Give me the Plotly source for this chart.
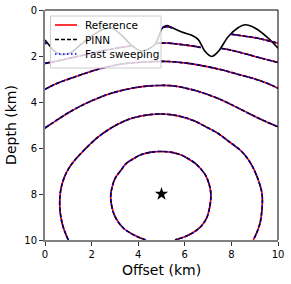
import plotly.graph_objects as go

# ---- data ----
topo_x = [0.0, 0.2, 0.39, 0.67, 1.1, 1.53, 2.1, 2.5, 2.82, 3.25, 3.68, 4.11, 4.54, 4.75, 4.9, 5.02,
          5.22, 5.44, 5.87, 6.3, 6.58, 6.87, 7.15, 7.44, 7.87, 8.3, 8.58, 9.01, 9.58, 10.0]
topo_z = [1.30, 1.55, 1.78, 1.93, 1.86, 1.50, 1.06, 0.84, 0.77, 1.06, 1.50, 1.78, 1.64, 1.45, 1.10, 0.80,
          0.68, 0.76, 0.96, 1.10, 1.29, 1.80, 2.02, 1.80, 1.15, 0.76, 0.64, 0.78, 1.22, 1.66]

c1_x = [4.33, 3.93, 3.36, 3.00, 2.86, 2.82, 2.88, 3.02, 3.22, 3.50, 3.79, 4.08, 4.50, 4.97, 5.45, 5.86,
        6.15, 6.44, 6.72, 6.90, 7.05, 7.12, 7.08, 6.94, 6.72, 6.44, 6.05, 5.58]
c1_z = [10.0, 9.84, 9.48, 8.97, 8.50, 8.10, 7.70, 7.30, 7.02, 6.66, 6.47, 6.31, 6.19, 6.15, 6.19, 6.31,
        6.47, 6.66, 6.95, 7.20, 7.60, 8.03, 8.50, 9.04, 9.38, 9.62, 9.84, 10.0]

c2_x = [1.00, 0.80, 0.68, 0.63, 0.68, 0.82, 1.00, 1.22, 1.50, 1.85, 2.22, 2.65, 3.08, 3.60, 4.08, 4.50,
        4.95, 5.40, 5.90, 6.40, 6.87, 7.40, 7.87, 8.20, 8.44, 8.73, 8.95, 9.15, 9.30, 9.33, 9.30, 9.23,
        9.10, 8.94]
c2_z = [10.0, 9.50, 9.00, 8.40, 7.80, 7.30, 6.92, 6.60, 6.28, 5.92, 5.57, 5.25, 4.99, 4.75, 4.62, 4.55,
        4.52, 4.55, 4.65, 4.82, 5.06, 5.35, 5.70, 5.95, 6.15, 6.51, 6.90, 7.38, 7.90, 8.25, 8.80, 9.26,
        9.65, 10.0]

c3_x = [0.0, 0.64, 1.0, 1.5, 2.0, 2.65, 3.2, 3.79, 4.35, 4.94, 5.4, 5.87, 6.45, 7.01, 7.6, 8.15, 8.6,
        9.01, 9.5, 10.0]
c3_z = [5.13, 4.70, 4.47, 4.19, 3.95, 3.68, 3.52, 3.39, 3.31, 3.28, 3.29, 3.36, 3.50, 3.68, 3.92, 4.19,
        4.42, 4.63, 4.86, 5.08]

c4_x = [0.0, 0.5, 1.22, 2.0, 2.65, 3.3, 4.08, 4.72, 5.3, 6.15, 6.9, 7.58, 8.3, 9.01, 9.5, 10.0]
c4_z = [3.45, 3.20, 2.93, 2.66, 2.48, 2.35, 2.27, 2.24, 2.24, 2.32, 2.45, 2.60, 2.80, 3.00, 3.17, 3.40]

c5a_x = [0.0, 0.6, 1.22, 2.0, 2.65, 3.3, 3.72]
c5a_z = [2.32, 2.20, 2.06, 1.88, 1.74, 1.62, 1.56]
c5b_x = [4.75, 5.0, 5.3, 5.58, 6.0, 6.3, 6.68]
c5b_z = [1.45, 1.44, 1.44, 1.47, 1.52, 1.56, 1.63]
c5c_x = [7.55, 8.0, 8.73, 9.3, 10.0]
c5c_z = [1.66, 1.75, 1.94, 2.10, 2.28]

c6a_x = [0.0, 0.12]
c6a_z = [1.45, 1.43]
c6b_x = [5.05, 5.22, 5.45]
c6b_z = [0.76, 0.73, 0.77]
c6c_x = [7.98, 8.3, 8.73, 9.1, 9.44, 10.0]
c6c_z = [1.05, 1.10, 1.16, 1.22, 1.30, 1.45]

src_x = [5.0]
src_z = [8.0]

legend_names = ["Reference", "PINN", "Fast sweeping"]

segments = [(c1_x, c1_z), (c2_x, c2_z), (c3_x, c3_z), (c4_x, c4_z),
            (c5a_x, c5a_z), (c5b_x, c5b_z), (c5c_x, c5c_z),
            (c6a_x, c6a_z), (c6b_x, c6b_z), (c6c_x, c6c_z)]

line_styles = [
    dict(color="#ff0000", width=1.6, dash="solid"),
    dict(color="#000000", width=1.6, dash="4px,2px"),
    dict(color="#0000ff", width=1.6, dash="1.5px,2.5px"),
]

fig = go.Figure()

fig.add_trace(go.Scatter(x=topo_x, y=topo_z, mode="lines", line=dict(color="black", width=1.6, shape="spline"),
                         showlegend=False, hoverinfo="skip"))

for name, ln in zip(legend_names, line_styles):
    for sx, sz in segments:
        fig.add_trace(go.Scatter(x=sx, y=sz, mode="lines", name=name, showlegend=False,
                                 line=dict(shape="spline", **ln)))

fig.add_trace(go.Scatter(x=src_x, y=src_z, mode="markers", showlegend=False,
                         marker=dict(symbol="star", size=10, color="black")))

# ---- layout geometry (pixels) ----
W, H = 291, 284
ML, MR, MT, MB = 45, 13, 10, 44
PW, PH = W - ML - MR, H - MT - MB


def px(xp):  # page pixel -> paper x
    return (xp - ML) / PW


def py(yp):  # page pixel -> paper y
    return 1 - (yp - MT) / PH


shapes = [
    dict(type="line", xref="paper", yref="paper", x0=0, x1=1, y0=1, y1=1,
         line=dict(color="black", width=1)),
    dict(type="line", xref="paper", yref="paper", x0=1, x1=1, y0=0, y1=1,
         line=dict(color="black", width=1)),
    # legend box
    dict(type="rect", xref="paper", yref="paper", x0=px(50.5), x1=px(161), y0=py(68), y1=py(16),
         fillcolor="rgba(255,255,255,0.8)", line=dict(color="#cccccc", width=1), layer="above"),
]
annotations = []
row_y = [25, 39.5, 54]
for name, ln, ry in zip(legend_names, line_styles, row_y):
    shapes.append(dict(type="line", xref="paper", yref="paper", x0=px(55), x1=px(77), y0=py(ry), y1=py(ry),
                       line=dict(color=ln["color"], width=1.6, dash=ln["dash"]), layer="above"))
    annotations.append(dict(xref="paper", yref="paper", x=px(83), y=py(ry), text=name, showarrow=False,
                            xanchor="left", yanchor="middle", font=dict(size=10.5, color="black")))

font = "DejaVu Sans, Arial, sans-serif"
fig.update_layout(
    width=W, height=H,
    margin=dict(l=ML, r=MR, t=MT, b=MB, pad=0),
    paper_bgcolor="white", plot_bgcolor="white",
    font=dict(family=font, size=10, color="black"),
    showlegend=False,
    hovermode=False,
    shapes=shapes,
    annotations=annotations,
)
fig.update_xaxes(range=[0, 10], tickvals=[0, 2, 4, 6, 8, 10], showgrid=False, zeroline=False, automargin=False,
                 ticklabeloverflow="allow",
                 showline=True, linecolor="#808080", linewidth=2, ticks="outside", ticklen=4,
                 tickcolor="#333333", title=dict(text="Offset (km)", font=dict(size=14), standoff=6))
fig.update_yaxes(range=[10, 0], tickvals=[0, 2, 4, 6, 8, 10], showgrid=False, zeroline=False, automargin=False,
                 ticklabeloverflow="allow",
                 showline=True, linecolor="#808080", linewidth=2, ticks="outside", ticklen=4,
                 tickcolor="#333333", title=dict(text="Depth (km)", font=dict(size=14), standoff=4))

fig.write_html("out.html", config={"displayModeBar": False},
               post_script="document.body.style.margin='0';")
